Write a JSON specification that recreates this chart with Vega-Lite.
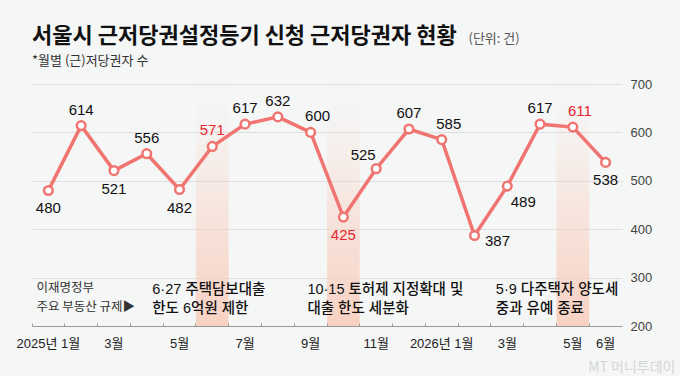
{
  "$schema": "https://vega.github.io/schema/vega-lite/v6.json",
  "width": 590,
  "height": 242,
  "autosize": {"type": "none"},
  "padding": {"left": 32, "top": 84, "right": 58, "bottom": 50},
  "background": "#f5f6f6",
  "title": {
    "text": "서울시 근저당권설정등기 신청 근저당권자 현황",
    "subtitle": "*월별 (근)저당권자 수",
    "anchor": "start",
    "frame": "group",
    "font": "Noto Sans CJK KR",
    "fontSize": 22,
    "fontWeight": "bold",
    "color": "#111111",
    "subtitleFont": "Noto Sans CJK KR",
    "subtitleFontSize": 13,
    "subtitleColor": "#333333",
    "subtitlePadding": 7,
    "offset": -37
  },
  "datasets": {
    "monthly": [
      {"month": "2025-01", "value": 480, "note": "이재명정부\n주요 부동산 규제▶"},
      {"month": "2025-02", "value": 614},
      {"month": "2025-03", "value": 521},
      {"month": "2025-04", "value": 556},
      {"month": "2025-05", "value": 482},
      {"month": "2025-06", "value": 571, "event": "6·27", "note": "6·27 주택담보대출\n한도 6억원 제한"},
      {"month": "2025-07", "value": 617},
      {"month": "2025-08", "value": 632},
      {"month": "2025-09", "value": 600},
      {"month": "2025-10", "value": 425, "event": "10·15", "note": "10·15 토허제 지정확대 및\n대출 한도 세분화"},
      {"month": "2025-11", "value": 525},
      {"month": "2025-12", "value": 607},
      {"month": "2026-01", "value": 585},
      {"month": "2026-02", "value": 387},
      {"month": "2026-03", "value": 489},
      {"month": "2026-04", "value": 617},
      {"month": "2026-05", "value": 611, "event": "5·9", "note": "5·9 다주택자 양도세\n중과 유예 종료"},
      {"month": "2026-06", "value": 538}
    ]
  },
  "data": {"name": "monthly"},
  "encoding": {
    "x": {
      "field": "month",
      "type": "ordinal",
      "scale": {"type": "band", "paddingInner": 0, "paddingOuter": 0},
      "axis": {
        "title": "MT 머니투데이",
        "titleX": 643,
        "titleY": 45,
        "titleAlign": "right",
        "titleBaseline": "alphabetic",
        "titleFont": "Noto Sans CJK KR",
        "titleFontSize": 14,
        "titleFontWeight": "normal",
        "titleColor": "#d6d6d6",
        "bandPosition": 0,
        "tickSize": -3,
        "tickColor": "#999999",
        "domainColor": "#999999",
        "labelAngle": 0,
        "labelDx": 16.4,
        "labelPadding": 14,
        "labelFont": "Liberation Sans, Noto Sans CJK KR",
        "labelFontSize": 13,
        "labelColor": "#222222",
        "labelOverlap": false,
        "labelExpr": "datum.value == '2025-01' ? '2025년 1월' : datum.value == '2026-01' ? '2026년 1월' : indexof(['2025-03','2025-05','2025-07','2025-09','2025-11','2026-03','2026-05','2026-06'], datum.value) >= 0 ? toNumber(substring(datum.value, 5)) + '월' : ''"
      }
    },
    "y": {
      "field": "value",
      "type": "quantitative",
      "scale": {"domain": [200, 700], "nice": false, "zero": false},
      "axis": {
        "orient": "right",
        "values": [200, 300, 400, 500, 600, 700],
        "grid": true,
        "gridColor": "#dedede",
        "domain": false,
        "ticks": false,
        "labelPadding": 8,
        "labelFont": "Liberation Sans",
        "labelFontSize": 13,
        "labelColor": "#444444",
        "title": "(단위: 건)",
        "titleAngle": 0,
        "titleX": -154,
        "titleY": -42,
        "titleAlign": "left",
        "titleBaseline": "alphabetic",
        "titleFont": "Noto Sans CJK KR",
        "titleFontSize": 13,
        "titleFontWeight": "normal",
        "titleColor": "#555555"
      }
    }
  },
  "layer": [
    {
      "transform": [{"filter": "isValid(datum.event)"}],
      "mark": {
        "type": "rect",
        "fill": {
          "gradient": "linear",
          "x1": 0, "y1": 0, "x2": 0, "y2": 1,
          "stops": [
            {"offset": 0, "color": "rgba(248,208,192,0)"},
            {"offset": 0.15, "color": "rgba(248,208,192,0.06)"},
            {"offset": 1, "color": "rgba(248,208,192,0.95)"}
          ]
        }
      },
      "encoding": {
        "y": {"datum": 700},
        "y2": {"datum": 200}
      }
    },
    {
      "mark": {"type": "line", "color": "#f07470", "strokeWidth": 3.5},
      "encoding": {}
    },
    {
      "mark": {"type": "circle", "size": 75, "fill": "#ffffff", "stroke": "#f07470", "strokeWidth": 2.5, "opacity": 1},
      "encoding": {}
    },
    {
      "transform": [{"filter": "indexof(['2025-02','2025-04','2025-06','2025-07','2025-08','2025-12','2026-04'], datum.month) >= 0"}],
      "mark": {"type": "text", "font": "Liberation Sans", "fontSize": 15, "baseline": "middle", "dy": -16},
      "encoding": {
        "text": {"field": "value", "type": "quantitative"},
        "color": {"condition": {"test": "isValid(datum.event)", "value": "#e8262e"}, "value": "#111111"}
      }
    },
    {
      "transform": [{"filter": "indexof(['2025-09','2026-01','2026-05'], datum.month) >= 0"}],
      "mark": {"type": "text", "font": "Liberation Sans", "fontSize": 15, "baseline": "middle", "dx": 7, "dy": -16},
      "encoding": {
        "text": {"field": "value", "type": "quantitative"},
        "color": {"condition": {"test": "isValid(datum.event)", "value": "#e8262e"}, "value": "#111111"}
      }
    },
    {
      "transform": [{"filter": "indexof(['2025-01','2025-03','2025-05','2025-10','2026-06'], datum.month) >= 0"}],
      "mark": {"type": "text", "font": "Liberation Sans", "fontSize": 15, "baseline": "middle", "dy": 18},
      "encoding": {
        "text": {"field": "value", "type": "quantitative"},
        "color": {"condition": {"test": "isValid(datum.event)", "value": "#e8262e"}, "value": "#111111"}
      }
    },
    {
      "transform": [{"filter": "datum.month == '2025-11'"}],
      "mark": {"type": "text", "font": "Liberation Sans", "fontSize": 15, "baseline": "middle", "dx": -13, "dy": -14, "color": "#111111"},
      "encoding": {"text": {"field": "value", "type": "quantitative"}}
    },
    {
      "transform": [{"filter": "datum.month == '2026-02'"}],
      "mark": {"type": "text", "font": "Liberation Sans", "fontSize": 15, "baseline": "middle", "dx": 23, "dy": 6, "color": "#111111"},
      "encoding": {"text": {"field": "value", "type": "quantitative"}}
    },
    {
      "transform": [{"filter": "datum.month == '2026-03'"}],
      "mark": {"type": "text", "font": "Liberation Sans", "fontSize": 15, "baseline": "middle", "dx": 16, "dy": 16, "color": "#111111"},
      "encoding": {"text": {"field": "value", "type": "quantitative"}}
    },
    {
      "transform": [{"filter": "datum.month == '2025-01'"}],
      "mark": {"type": "text", "font": "Noto Sans CJK KR", "fontSize": 12.5, "align": "left", "baseline": "middle", "lineBreak": "\n", "lineHeight": 19, "dx": -12, "color": "#333333"},
      "encoding": {"y": {"datum": 278}, "text": {"field": "note", "type": "nominal"}}
    },
    {
      "transform": [{"filter": "datum.event == '6·27'"}],
      "mark": {"type": "text", "font": "Liberation Sans, Noto Sans CJK KR", "fontSize": 14.5, "fontWeight": 500, "align": "left", "baseline": "middle", "lineBreak": "\n", "lineHeight": 19, "dx": -60, "color": "#111111"},
      "encoding": {"y": {"datum": 274}, "text": {"field": "note", "type": "nominal"}}
    },
    {
      "transform": [{"filter": "datum.event == '10·15'"}],
      "mark": {"type": "text", "font": "Liberation Sans, Noto Sans CJK KR", "fontSize": 14.5, "fontWeight": 500, "align": "left", "baseline": "middle", "lineBreak": "\n", "lineHeight": 19, "dx": -36, "color": "#111111"},
      "encoding": {"y": {"datum": 274}, "text": {"field": "note", "type": "nominal"}}
    },
    {
      "transform": [{"filter": "datum.event == '5·9'"}],
      "mark": {"type": "text", "font": "Liberation Sans, Noto Sans CJK KR", "fontSize": 14.5, "fontWeight": 500, "align": "left", "baseline": "middle", "lineBreak": "\n", "lineHeight": 19, "dx": -77, "color": "#111111"},
      "encoding": {"y": {"datum": 274}, "text": {"field": "note", "type": "nominal"}}
    }
  ],
  "config": {
    "view": {"stroke": null}
  }
}
